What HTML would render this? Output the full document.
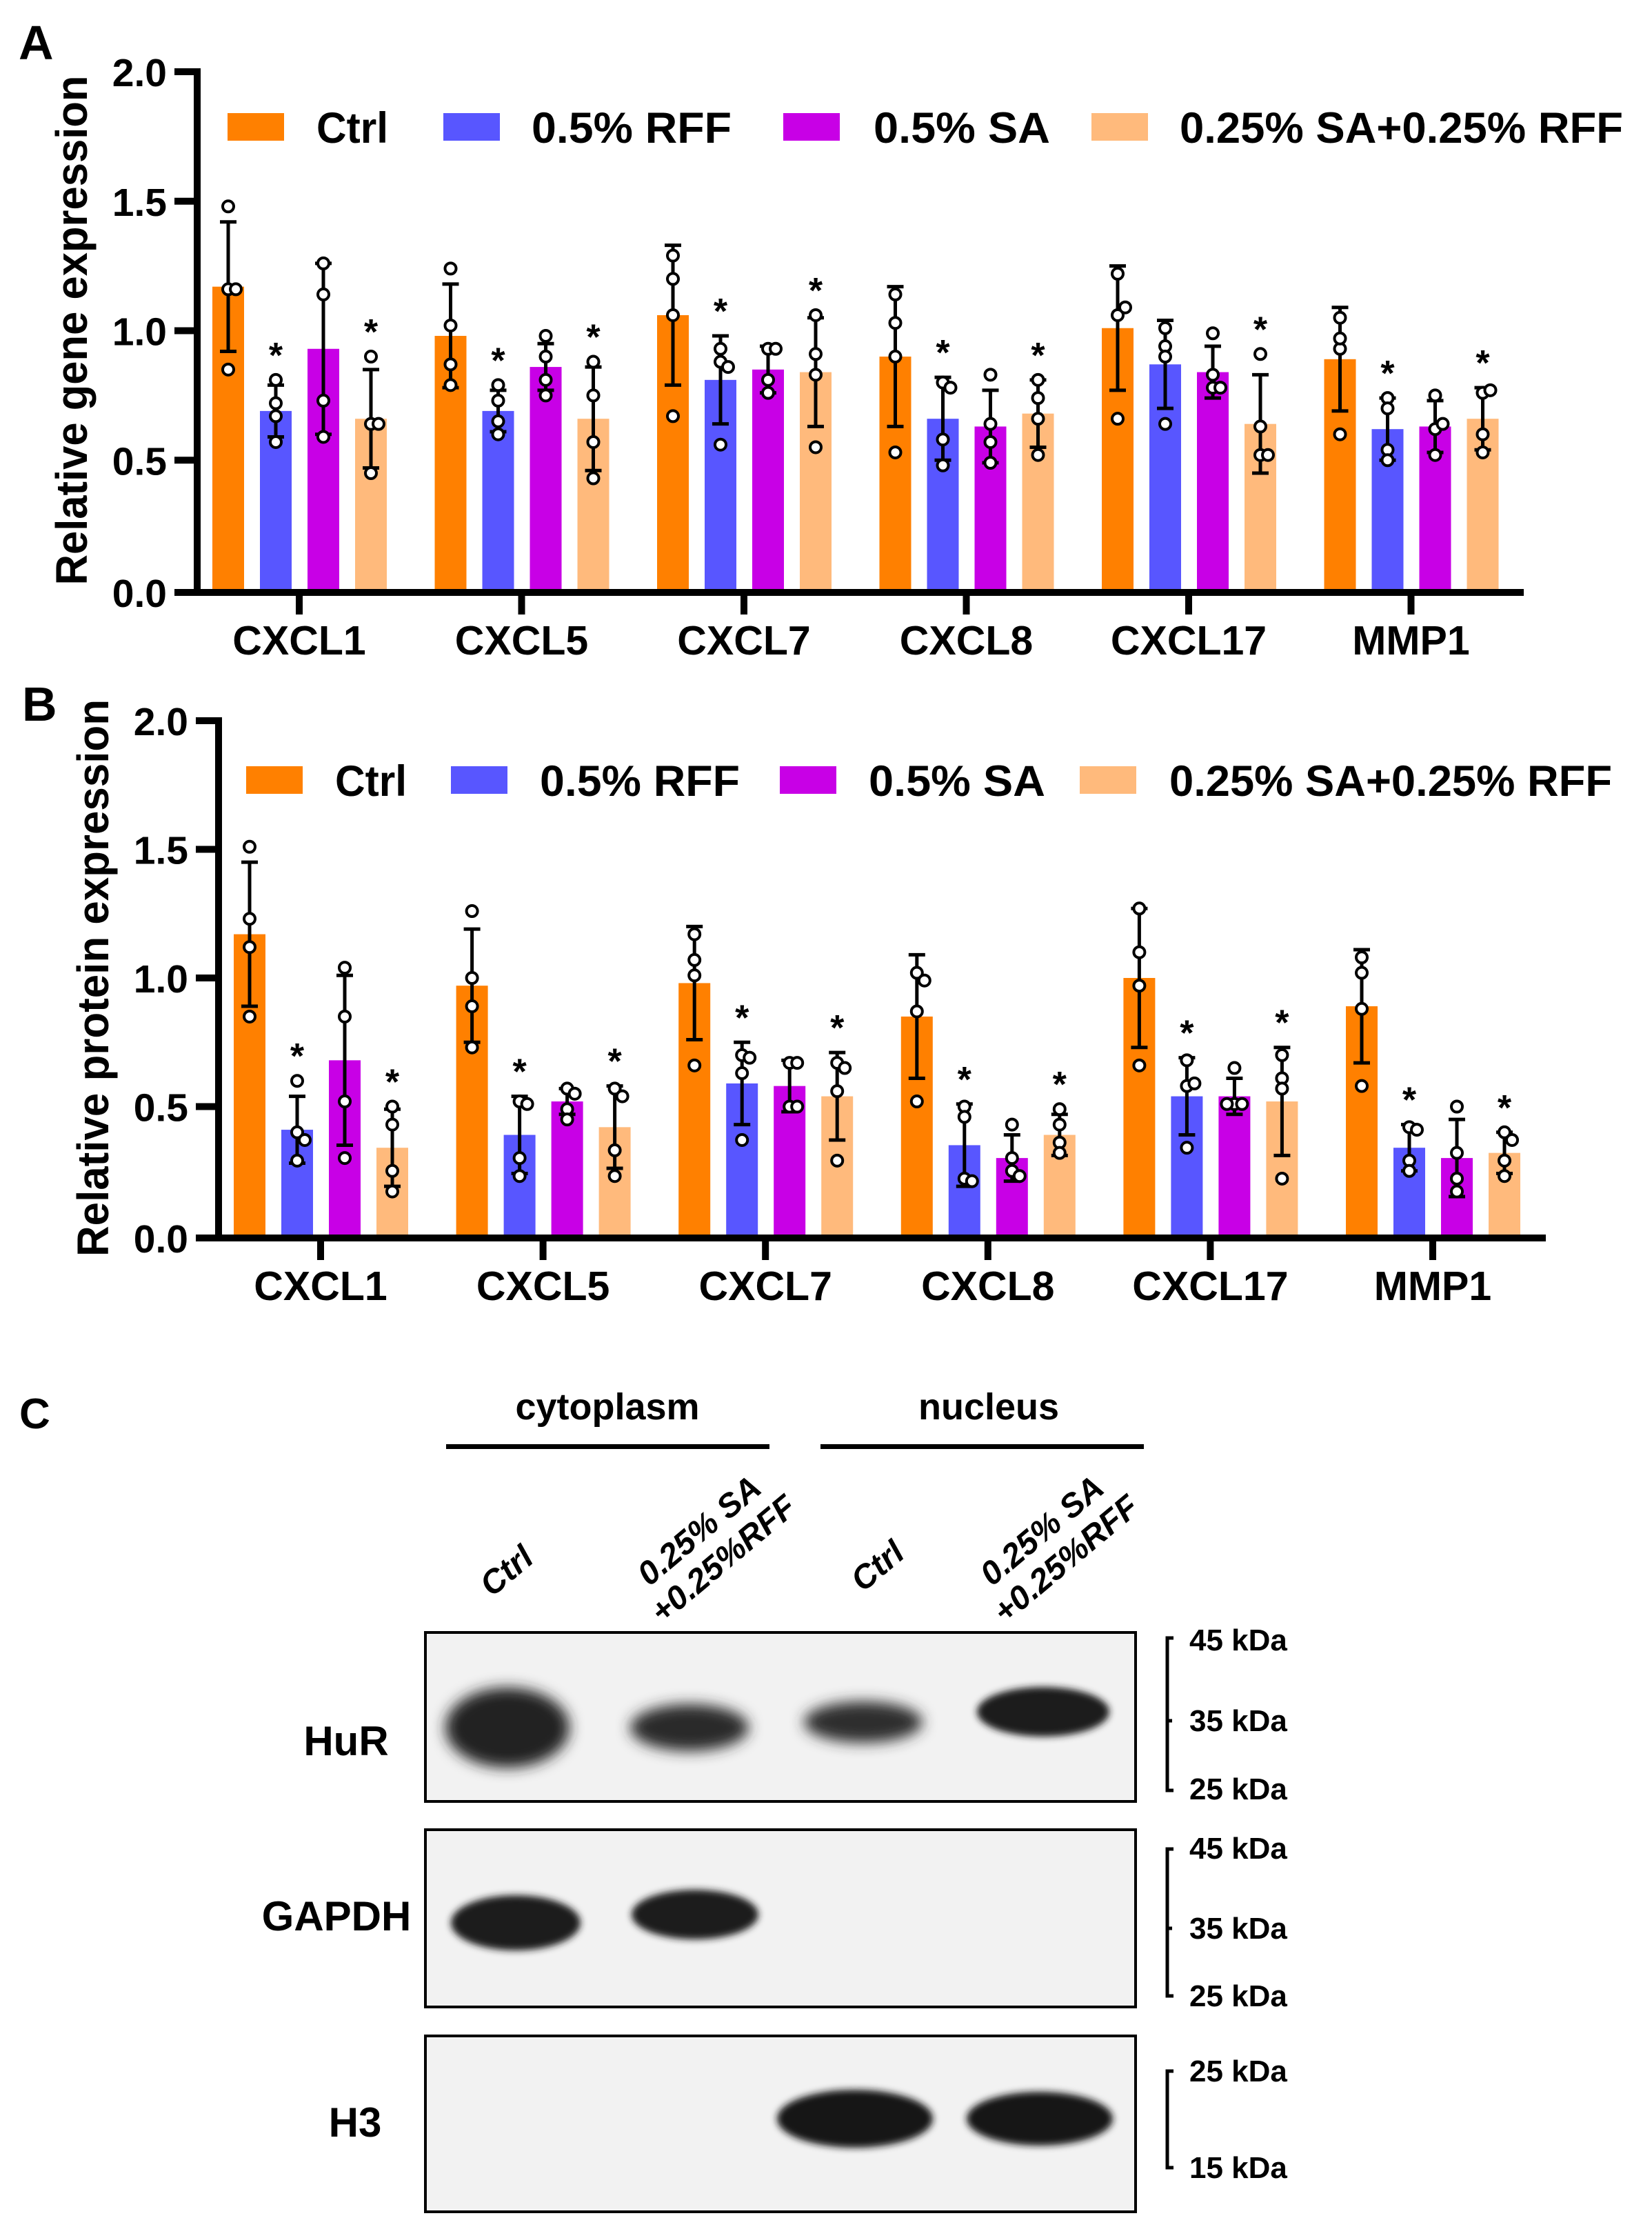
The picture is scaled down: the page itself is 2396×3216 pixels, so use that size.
<!DOCTYPE html>
<html><head><meta charset="utf-8"><style>
html,body{margin:0;padding:0;background:#fff;}
svg{display:block;font-family:"Liberation Sans",sans-serif;}
</style></head><body>
<svg id="fig" width="2396" height="3216" viewBox="0 0 2396 3216" xmlns="http://www.w3.org/2000/svg">
<defs>
<filter id="blur" x="-20%" y="-50%" width="140%" height="200%"><feGaussianBlur stdDeviation="10"/></filter>
<filter id="blur2" x="-20%" y="-50%" width="140%" height="200%"><feGaussianBlur stdDeviation="5"/></filter>
</defs>
<g id="panelA"></g>
<g id="panelB"></g>
<g id="panelC">
<text x="28" y="2071" font-size="62" font-weight="bold">C</text>
<text x="881" y="2058" font-size="54" font-weight="bold" text-anchor="middle">cytoplasm</text>
<rect x="647" y="2094" width="469" height="7" fill="#000"/>
<text x="1434" y="2058" font-size="54" font-weight="bold" text-anchor="middle">nucleus</text>
<rect x="1190" y="2094" width="469" height="7" fill="#000"/>
<text font-size="48" font-weight="bold" font-style="italic" text-anchor="middle" transform="translate(745,2290) rotate(-40)">Ctrl</text>
<text font-size="48" font-weight="bold" font-style="italic" text-anchor="middle" transform="translate(1040,2250) rotate(-40)"><tspan x="0" y="-24">0.25% SA</tspan><tspan x="0" y="30">+0.25%RFF</tspan></text>
<text font-size="48" font-weight="bold" font-style="italic" text-anchor="middle" transform="translate(1283,2283) rotate(-40)">Ctrl</text>
<text font-size="48" font-weight="bold" font-style="italic" text-anchor="middle" transform="translate(1537,2250) rotate(-40)"><tspan x="0" y="-24">0.25% SA</tspan><tspan x="0" y="30">+0.25%RFF</tspan></text>

<g>
<rect x="617" y="2367" width="1030" height="245" fill="#f2f2f2" stroke="#000" stroke-width="4"/>
<ellipse cx="736" cy="2505" rx="90" ry="58" fill="#222" filter="url(#blur)"/>
<ellipse cx="1000" cy="2505" rx="86" ry="34" fill="#2a2a2a" filter="url(#blur)"/>
<ellipse cx="1252" cy="2497" rx="86" ry="30" fill="#2e2e2e" filter="url(#blur)"/>
<ellipse cx="1513" cy="2482" rx="96" ry="36" fill="#1c1c1c" filter="url(#blur2)"/>
</g>
<text x="502" y="2545" font-size="60" font-weight="bold" text-anchor="middle">HuR</text>
<g>
<rect x="617" y="2653" width="1030" height="257" fill="#f2f2f2" stroke="#000" stroke-width="4"/>
<ellipse cx="748" cy="2788" rx="94" ry="40" fill="#1c1c1c" filter="url(#blur2)"/>
<ellipse cx="1008" cy="2776" rx="92" ry="36" fill="#1e1e1e" filter="url(#blur2)"/>
</g>
<text x="488" y="2799" font-size="60" font-weight="bold" text-anchor="middle">GAPDH</text>
<g>
<rect x="617" y="2952" width="1030" height="255" fill="#f2f2f2" stroke="#000" stroke-width="4"/>
<ellipse cx="1240" cy="3072" rx="113" ry="42" fill="#161616" filter="url(#blur2)"/>
<ellipse cx="1508" cy="3072" rx="106" ry="39" fill="#191919" filter="url(#blur2)"/>
</g>
<text x="515" y="3098" font-size="60" font-weight="bold" text-anchor="middle">H3</text>
<g font-size="44" font-weight="bold">
<path d="M1702 2375 H1693 V2596 H1702 M1693 2495 H1700" stroke="#000" stroke-width="5" fill="none"/>
<text x="1725" y="2393">45 kDa</text><text x="1725" y="2510">35 kDa</text><text x="1725" y="2609">25 kDa</text>
<path d="M1702 2681 H1693 V2894 H1702 M1693 2796 H1700" stroke="#000" stroke-width="5" fill="none"/>
<text x="1725" y="2695">45 kDa</text><text x="1725" y="2811">35 kDa</text><text x="1725" y="2909">25 kDa</text>
<path d="M1702 3003 H1693 V3143 H1702" stroke="#000" stroke-width="5" fill="none"/>
<text x="1725" y="3018">25 kDa</text><text x="1725" y="3158">15 kDa</text>
</g>
</g>
</svg>
<script>
// ---------- Data ----------
const categories = ["CXCL1","CXCL5","CXCL7","CXCL8","CXCL17","MMP1"];
const seriesNames = ["Ctrl","0.5% RFF","0.5% SA","0.25% SA+0.25% RFF"];
const seriesColors = ["#FF8000","#5856FF","#C800E6","#FFBA7C"];
const yTicks = [0.0,0.5,1.0,1.5,2.0];
const yTickLabels = ["0.0","0.5","1.0","1.5","2.0"];

// Panel A: relative gene expression
const geneCtrlMean = [1.17,0.98,1.06,0.90,1.01,0.89];
const geneCtrlSD   = [0.25,0.20,0.27,0.27,0.24,0.20];
const geneRFFMean  = [0.69,0.69,0.81,0.66,0.87,0.62];
const geneRFFSD    = [0.10,0.08,0.17,0.16,0.17,0.12];
const geneSAMean   = [0.93,0.86,0.85,0.63,0.84,0.63];
const geneSASD     = [0.33,0.09,0.09,0.14,0.10,0.10];
const geneMixMean  = [0.66,0.66,0.84,0.68,0.64,0.66];
const geneMixSD    = [0.19,0.20,0.21,0.13,0.19,0.12];
const geneCtrlPts = [[1.48,1.16,1.16,0.85],[1.24,1.02,0.87,0.79],[1.29,1.20,1.06,0.67],[1.14,1.03,0.90,0.53],[1.22,1.06,1.09,0.66],[1.05,0.93,0.97,0.60]];
const geneRFFPts  = [[0.81,0.72,0.67,0.57],[0.79,0.73,0.65,0.60],[0.93,0.88,0.86,0.56],[0.80,0.78,0.58,0.48],[0.94,0.90,1.01,0.64],[0.74,0.70,0.54,0.50]];
const geneSAPts   = [[1.26,1.14,0.73,0.59],[0.98,0.90,0.81,0.75],[0.93,0.93,0.81,0.76],[0.83,0.64,0.57,0.49],[0.99,0.83,0.78,0.78],[0.75,0.62,0.64,0.52]];
const geneMixPts  = [[0.90,0.64,0.64,0.45],[0.88,0.75,0.57,0.43],[1.06,0.91,0.83,0.55],[0.81,0.74,0.66,0.52],[0.91,0.63,0.52,0.52],[0.76,0.77,0.60,0.53]];
const geneSig = [[0,0,0,0,0,0],[1,1,1,1,0,1],[0,0,0,0,0,0],[1,1,1,1,1,1]];

// Panel B: relative protein expression
const protCtrlMean = [1.17,0.97,0.98,0.85,1.00,0.89];
const protCtrlSD   = [0.28,0.22,0.22,0.24,0.27,0.22];
const protRFFMean  = [0.41,0.39,0.59,0.35,0.54,0.34];
const protRFFSD    = [0.13,0.15,0.16,0.16,0.15,0.09];
const protSAMean   = [0.68,0.52,0.58,0.30,0.54,0.30];
const protSASD     = [0.33,0.05,0.10,0.09,0.07,0.15];
const protMixMean  = [0.34,0.42,0.54,0.39,0.52,0.32];
const protMixSD    = [0.15,0.16,0.17,0.08,0.21,0.08];
const protCtrlPts = [[1.51,1.23,1.12,0.85],[1.26,1.00,0.89,0.73],[1.17,1.07,1.01,0.66],[1.02,0.99,0.87,0.52],[1.27,1.10,0.97,0.66],[1.08,1.02,0.88,0.58]];
const protRFFPts  = [[0.60,0.40,0.37,0.29],[0.52,0.51,0.30,0.23],[0.70,0.69,0.63,0.37],[0.50,0.46,0.22,0.21],[0.68,0.58,0.59,0.34],[0.42,0.41,0.29,0.25]];
const protSAPts   = [[1.04,0.85,0.52,0.30],[0.57,0.55,0.49,0.45],[0.67,0.67,0.50,0.50],[0.43,0.30,0.25,0.23],[0.65,0.51,0.51,0.51],[0.50,0.32,0.22,0.17]];
const protMixPts  = [[0.50,0.43,0.25,0.17],[0.57,0.54,0.33,0.23],[0.67,0.65,0.56,0.29],[0.49,0.43,0.36,0.32],[0.70,0.61,0.57,0.22],[0.40,0.37,0.29,0.23]];
const protSig = [[0,0,0,0,0,0],[1,1,1,1,1,1],[0,0,0,0,0,0],[1,1,1,1,1,1]];

const NS = "http://www.w3.org/2000/svg";
function mk(tag, attrs, parent){
  const e = document.createElementNS(NS, tag);
  for (const k in attrs) e.setAttribute(k, attrs[k]);
  parent.appendChild(e);
  return e;
}

function drawChart(gid, cfg){
  const g = document.getElementById(gid);
  const yScale = v => cfg.y0 - v * (cfg.y0 - cfg.y2) / 2;
  const xCat = i => cfg.firstTick + i * cfg.groupStep;
  const barOff = [-103,-34,35,104];
  const barW = 46;

  const pl = mk("text", {x: cfg.letterX, y: cfg.letterY, "font-size": 70, "font-weight": "bold"}, g);
  
  
  pl.textContent = cfg.letter;

  for (let s = 0; s < 4; s++){
    for (let i = 0; i < categories.length; i++){
      const cx = xCat(i) + barOff[s];
      const m = cfg.means[s][i], sd = cfg.sds[s][i];
      const bar = mk("rect", {x: cx - barW/2, y: yScale(m), width: barW, height: yScale(0) - yScale(m), fill: seriesColors[s]}, g);
      
      
      const yt = yScale(m + sd), yb = yScale(m - sd);
      const eb = mk("path", {d: `M${cx} ${yt} V${yb} M${cx-12} ${yt} H${cx+12} M${cx-12} ${yb} H${cx+12}`, stroke: "#000", "stroke-width": 5, fill: "none"}, g);
      
      
      const pts = cfg.pts[s][i];
      let maxV = m + sd;
      const used = [];
      pts.forEach((v) => {
        let dx = 0;
        const dup = used.filter(u => Math.abs(u - v) < 0.035).length;
        if (dup === 1) dx = 11; else if (dup === 2) dx = -11;
        used.push(v);
        if (v > maxV) maxV = v;
        const c = mk("circle", {cx: cx + dx, cy: yScale(v), r: 8, fill: "#fff", stroke: "#000", "stroke-width": 4}, g);
        
        
      });
      if (cfg.sig[s][i]){
        const st = mk("text", {x: cx, y: yScale(maxV) - 18, "font-size": 52, "font-weight": "bold", "text-anchor": "middle"}, g);
        
        
        st.textContent = "*";
      }
    }
  }

  const ya = mk("path", {d: `M${cfg.axisX} ${cfg.y2 - 5} V${cfg.y0 + 5}`, stroke: "#000", "stroke-width": 10, fill: "none"}, g);
  
  
  const xa = mk("path", {d: `M${cfg.axisX - 33} ${cfg.y0 + 4} H${cfg.axisEnd}`, stroke: "#000", "stroke-width": 10, fill: "none"}, g);
  
  
  yTicks.forEach((t, k) => {
    const y = yScale(t) + (k === 0 ? 4 : 0);
    const tk = mk("path", {d: `M${cfg.axisX - 33} ${y} H${cfg.axisX}`, stroke: "#000", "stroke-width": 10}, g);
    
    
    const tl = mk("text", {x: cfg.axisX - 44, y: y + 21, "font-size": 57, "font-weight": "bold", "text-anchor": "end"}, g);
    
    
    tl.textContent = yTickLabels[k];
  });
  categories.forEach((c, i) => {
    const x = xCat(i);
    const tk = mk("path", {d: `M${x} ${cfg.y0 + 4} V${cfg.y0 + 36}`, stroke: "#000", "stroke-width": 10}, g);
    
    
    const tl = mk("text", {x: x, y: cfg.y0 + 94, "font-size": 59, "font-weight": "bold", "text-anchor": "middle"}, g);
    
    
    tl.textContent = c;
  });
  const at = mk("text", {"font-size": 64, "font-weight": "bold", "text-anchor": "middle", textLength: cfg.titleLen, lengthAdjust: "spacingAndGlyphs", transform: `translate(${cfg.titleX},${cfg.titleCY}) rotate(-90)`}, g);
  
  
  at.textContent = cfg.title;

  for (let s = 0; s < 4; s++){
    const sw = mk("rect", {x: cfg.legSwX[s], y: cfg.legY, width: 82, height: 40, fill: seriesColors[s]}, g);
    
    
    const lt = mk("text", {x: cfg.legTxX[s], y: cfg.legY + 43, "font-size": 63, "font-weight": "bold", textLength: cfg.legTxW[s], lengthAdjust: "spacingAndGlyphs"}, g);
    
    
    lt.textContent = seriesNames[s];
  }
}

drawChart("panelA", {
  letter: "A", letterX: 27, letterY: 86,
  y0: 855, y2: 104, axisX: 286, axisEnd: 2210, firstTick: 434, groupStep: 322.5,
  means: [geneCtrlMean, geneRFFMean, geneSAMean, geneMixMean],
  sds: [geneCtrlSD, geneRFFSD, geneSASD, geneMixSD],
  pts: [geneCtrlPts, geneRFFPts, geneSAPts, geneMixPts],
  sig: geneSig,
  title: "Relative gene expression", titleX: 126, titleCY: 479, titleLen: 739,
  legY: 164, legSwX: [330, 643, 1136, 1583], legTxX: [459, 771, 1267, 1711], legTxW: [104, 290, 256, 643]
});
drawChart("panelB", {
  letter: "B", letterX: 32, letterY: 1045,
  y0: 1791, y2: 1045, axisX: 317, axisEnd: 2242, firstTick: 465, groupStep: 322.6,
  means: [protCtrlMean, protRFFMean, protSAMean, protMixMean],
  sds: [protCtrlSD, protRFFSD, protSASD, protMixSD],
  pts: [protCtrlPts, protRFFPts, protSAPts, protMixPts],
  sig: protSig,
  title: "Relative protein expression", titleX: 157, titleCY: 1418, titleLen: 808,
  legY: 1111, legSwX: [357, 654, 1131, 1566], legTxX: [486, 783, 1260, 1696], legTxW: [104, 290, 256, 642]
});
</script>
</body></html>
